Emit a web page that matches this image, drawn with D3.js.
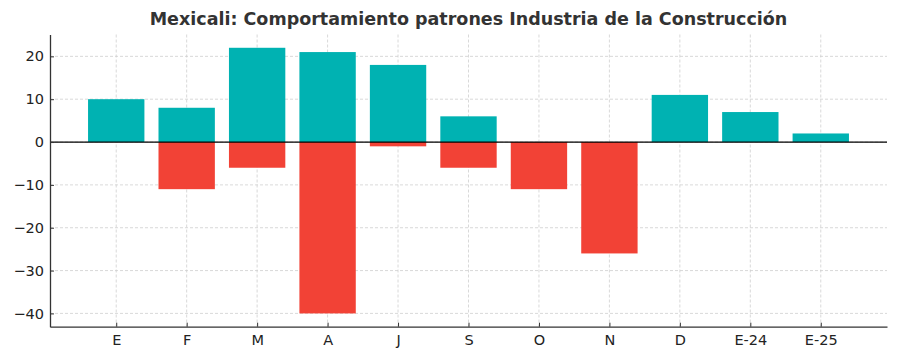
<!DOCTYPE html>
<html><head><meta charset="utf-8">
<script src="https://cdn.jsdelivr.net/npm/d3@7"></script>
<style>body{margin:0;background:#fff}svg{display:block}</style>
</head><body>
<svg id="chart" width="900" height="360"></svg>
<script>
const categories = ["E","F","M","A","J","S","O","N","D","E-24","E-25"];
const positiveValues = [10, 8, 22, 21, 18, 6, 0, 0, 11, 7, 2];
const negativeValues = [0, -11, -6, -40, -1, -6, -11, -26, 0, 0, 0];
const yTicks = [-40, -30, -20, -10, 0, 10, 20];
const titleText = "Mexicali: Comportamiento patrones Industria de la Construcción";

(function(){
const svg = d3.select("#chart");
const pLeft = 50, pRight = 887, pTop = 34.5, pBottom = 326.7;
const font = "'DejaVu Sans', sans-serif";

const x = d3.scaleLinear().domain([-0.94, categories.length - 1 + 0.94]).range([pLeft, pRight]);
const y = d3.scaleLinear().domain([-43.1, 25.1]).range([pBottom, pTop]);
const bw = (x(0.8) - x(0));

// grid
const g = svg.append("g");
g.selectAll(".gx").data(categories).join("line")
  .attr("x1", (d,i)=>x(i)).attr("x2",(d,i)=>x(i)).attr("y1", pTop).attr("y2", pBottom)
  .attr("stroke", "#cfcfcf").attr("stroke-width", 0.8).attr("stroke-dasharray", "3,2");
g.selectAll(".gy").data(yTicks).join("line")
  .attr("x1", pLeft).attr("x2", pRight).attr("y1", d=>y(d)).attr("y2", d=>y(d))
  .attr("stroke", "#cfcfcf").attr("stroke-width", 0.8).attr("stroke-dasharray", "3,2");

// bars
svg.append("g").selectAll("rect").data(positiveValues).join("rect")
  .attr("x", (d,i)=>x(i) - bw/2).attr("width", bw)
  .attr("y", d=>y(Math.max(d,0))).attr("height", d=>Math.abs(y(d)-y(0)))
  .attr("fill", "#00b2b2");
svg.append("g").selectAll("rect").data(negativeValues).join("rect")
  .attr("x", (d,i)=>x(i) - bw/2).attr("width", bw)
  .attr("y", d=>y(0)).attr("height", d=>Math.abs(y(d)-y(0)))
  .attr("fill", "#f24236");

// zero line
svg.append("line").attr("x1", pLeft).attr("x2", pRight).attr("y1", y(0)).attr("y2", y(0))
  .attr("stroke", "#000").attr("stroke-width", 1.3);

// axes
const yAxis = d3.axisLeft(y).tickValues(yTicks).tickSizeInner(-4).tickSizeOuter(0).tickPadding(6)
  .tickFormat(d => d < 0 ? "\u2212" + Math.abs(d) : d);
const ya = svg.append("g").attr("transform", `translate(${pLeft},0)`).call(yAxis);
const xAxis = d3.axisBottom(x).tickValues(d3.range(categories.length)).tickSizeInner(-4).tickSizeOuter(0).tickPadding(8)
  .tickFormat(i => categories[i]);
const xa = svg.append("g").attr("transform", `translate(0,${pBottom})`).call(xAxis);
[ya, xa].forEach(a => {
  a.select(".domain").attr("stroke", "#333").attr("stroke-width", 1.3);
  a.selectAll(".tick line").attr("stroke", "#333").attr("stroke-width", 1);
  a.selectAll(".tick text").attr("font-family", font).attr("font-size", 14.5).attr("fill", "#222");
});

// title
svg.append("text").attr("x", (pLeft+pRight)/2).attr("y", 25).attr("text-anchor", "middle")
  .attr("font-family", font).attr("font-weight", "bold").attr("font-size", 17.5).attr("fill", "#333")
  .text(titleText);
})();
</script>
</body></html>
